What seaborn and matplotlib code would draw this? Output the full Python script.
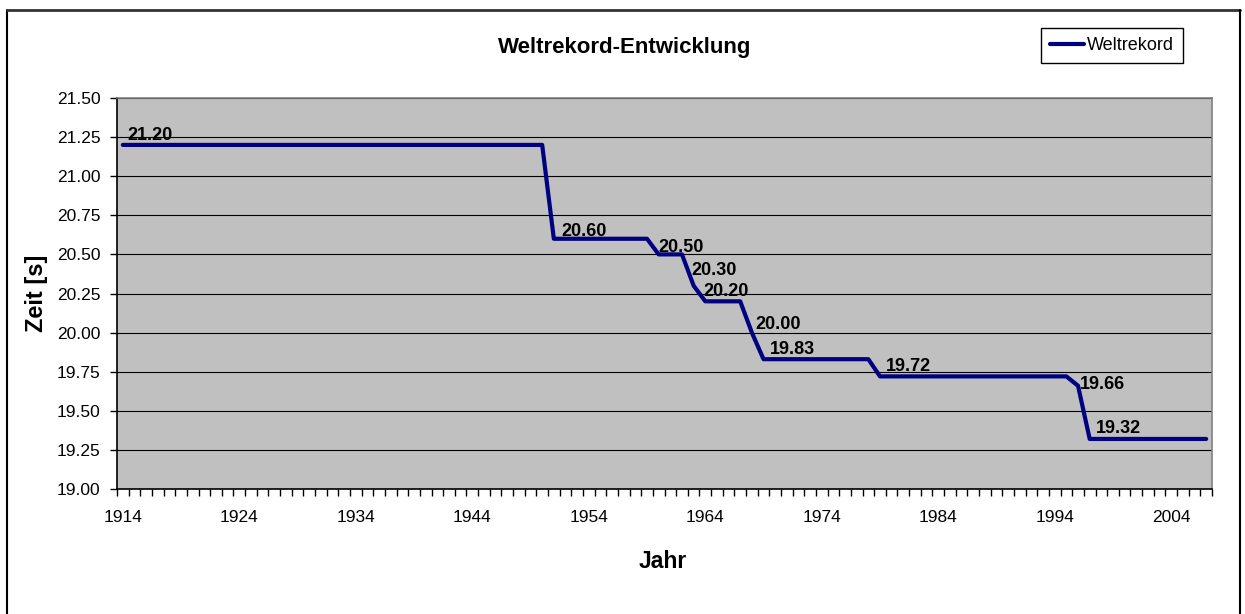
import matplotlib
matplotlib.use("Agg")
import matplotlib.pyplot as plt
from matplotlib.lines import Line2D
from matplotlib.ticker import FixedLocator
import numpy as np
import pandas as pd
import seaborn as sns

# Eckpunkte der Kurve (Jahr, Zeit in s)
jahre = [1914, 1950, 1951, 1959, 1960, 1962, 1963, 1964, 1967, 1968, 1969,
         1978, 1979, 1995, 1996, 1997, 2007]
zeiten = [21.20, 21.20, 20.60, 20.60, 20.50, 20.50, 20.30, 20.20, 20.20, 20.00,
          19.83, 19.83, 19.72, 19.72, 19.66, 19.32, 19.32]

# beschriftete Rekorde
label_jahre = [1914, 1951, 1960, 1963, 1964, 1968, 1969, 1979, 1996, 1997]
label_zeiten = [21.20, 20.60, 20.50, 20.30, 20.20, 20.00, 19.83, 19.72, 19.66, 19.32]

x_ticks = [1914, 1924, 1934, 1944, 1954, 1964, 1974, 1984, 1994, 2004]
y_ticks = [19.00, 19.25, 19.50, 19.75, 20.00, 20.25, 20.50, 20.75, 21.00, 21.25, 21.50]

# Verschiebung der Beschriftungen in Pixeln
label_offsets = [(5, 5), (8, 3), (0, 2), (-2, 11), (-2, 5), (4, 4), (6, 5),
                 (6, 5), (2, -3), (6, 6)]

sns.set_theme(style="white")
plt.rcParams['font.family'] = ['Liberation Sans', 'DejaVu Sans']
plt.rcParams['text.color'] = 'black'
plt.rcParams['axes.labelcolor'] = 'black'
plt.rcParams['xtick.color'] = 'black'
plt.rcParams['ytick.color'] = 'black'

df = pd.DataFrame({'Jahr': jahre, 'Zeit': zeiten})

fig = plt.figure(figsize=(12.45, 6.14), dpi=100)
ax = fig.add_axes([117 / 1245, 1 - 489 / 614, (1212 - 117) / 1245, (489 - 98) / 614])
ax.set_facecolor('#C0C0C0')

sns.lineplot(data=df, x='Jahr', y='Zeit', ax=ax, color='#000080', linewidth=3,
             sort=False, label='Weltrekord')

for (j, z), (dx, dy) in zip(zip(label_jahre, label_zeiten), label_offsets):
    ax.annotate(f"{z:.2f}", (j, z), xytext=(dx, dy), textcoords='offset pixels',
                ha='left', va='baseline', fontsize=13, fontweight='bold', color='black')

ax.set_xlim(1913.5, 2007.5)
ax.set_ylim(19.0, 21.5)
ax.set_yticks(y_ticks)
ax.set_yticklabels([f"{v:.2f}" for v in y_ticks])
ax.set_xticks(x_ticks)
ax.set_xticklabels([str(v) for v in x_ticks])
ax.xaxis.set_minor_locator(FixedLocator(np.arange(1913.5, 2008, 1.0)))
ax.tick_params(axis='x', which='major', length=0, pad=15, labelsize=12.5, labelcolor='black')
ax.tick_params(axis='x', which='minor', length=5, width=1, color='black', direction='out', bottom=True)
ax.tick_params(axis='y', which='major', length=5, width=1, color='black', direction='out',
               left=True, pad=7, labelsize=12.5, labelcolor='black')

ax.grid(axis='y', color='black', linewidth=0.8)
ax.set_axisbelow(True)

for s in ['left', 'bottom']:
    ax.spines[s].set_color('black')
    ax.spines[s].set_linewidth(1.2)
for s in ['top', 'right']:
    ax.spines[s].set_color('#808080')
    ax.spines[s].set_linewidth(1.2)

ax.set_xlabel('')
ax.set_ylabel('')
fig.text(37 / 1245, 1 - 293 / 614, 'Zeit [s]', rotation=90, ha='center', va='center',
         fontsize=17, fontweight='bold', color='black')
fig.text(663 / 1245, 1 - 561 / 614, 'Jahr', ha='center', va='center',
         fontsize=16.5, fontweight='bold', color='black')
fig.text(625 / 1245, 1 - 47 / 614, 'Weltrekord-Entwicklung', ha='center', va='center',
         fontsize=16, fontweight='bold', color='black')

leg = ax.legend(loc='upper left', bbox_to_anchor=(1041 / 1245, 1 - 28 / 614),
                bbox_transform=fig.transFigure, fontsize=13, fancybox=False,
                framealpha=1, edgecolor='black', handlelength=1.9, handletextpad=0.12,
                borderpad=0.5, borderaxespad=0)
leg.get_frame().set_linewidth(1)
for t in leg.get_texts():
    t.set_color('black')

# Rahmen um das Diagramm
fig.add_artist(Line2D([7 / 1245, 7 / 1245], [0, 1 - 10 / 614], color='black', linewidth=1.5))
fig.add_artist(Line2D([7 / 1245, 1240 / 1245], [1 - 10 / 614, 1 - 10 / 614], color='#333333', linewidth=2))
fig.add_artist(Line2D([1240 / 1245, 1240 / 1245], [0, 1 - 10 / 614], color='black', linewidth=1.5))

fig.savefig('out.png', dpi=100)
